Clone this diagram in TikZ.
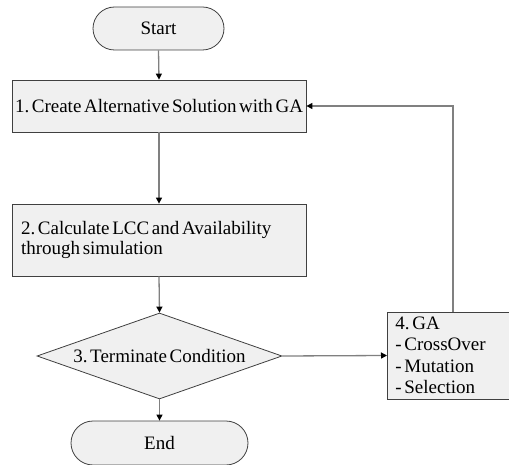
\documentclass[tikz,border=0pt]{standalone}
\usepackage{fontspec}
\setmainfont{Liberation Serif}[WordSpace=0.55]
\usetikzlibrary{shapes.geometric,shapes.misc,arrows.meta}
\definecolor{boxfill}{HTML}{F0F0F0}
\definecolor{boxline}{HTML}{404040}
\definecolor{flowline}{HTML}{808080}
\frenchspacing
\begin{document}
\begin{tikzpicture}[x=1pt,y=-1pt,
  font=\fontsize{19}{19.5}\selectfont,
  every node/.style={fill=boxfill,draw=boxline,line width=0.8pt,inner sep=0pt},
  terminal/.style={rounded rectangle,minimum height=43pt},
  process/.style={rectangle,minimum height=52pt},
  listbox/.style={rectangle,text width=#1,align=flush left,
    execute at begin node={\frenchspacing\spaceskip=0.14em\relax}},
  decision/.style={diamond,aspect=2.85,minimum width=245pt,minimum height=86pt},
  flow/.style={draw=flowline,line width=1.3pt,-{Triangle[length=6pt,width=6pt,color=black]}}
]
\useasboundingbox (0,0) rectangle (509,465);
\node[terminal,minimum width=131pt] (start) at (158.5,28.5) {Start};
\node[process,minimum width=294pt] (create) at (159,106) {1. Create Alternative Solution with GA};
\node[process,listbox=276pt,minimum width=294pt,minimum height=72pt] (calc) at (159,240)
  {2. Calculate LCC and Availability\\through simulation};
\node[decision] (cond) at (159.5,356) {3. Terminate Condition};
\node[terminal,minimum width=177pt,minimum height=44pt] (end) at (159.5,443) {End};
\node[listbox=126pt,minimum width=140pt,minimum height=87pt,anchor=west,
  font=\fontsize{19}{21.5}\selectfont,inner xsep=8pt] (ga) at (387,355.5)
  {4. GA\\- CrossOver\\- Mutation\\- Selection};
\coordinate (loop) at (453,0);
\draw[flow] (start.south) -- (create.north);
\draw[flow] (create.south) -- (calc.north);
\draw[flow] (calc.south) -- (cond.north);
\draw[flow] (cond.south) -- (end.north);
\draw[flow] (cond.east) -- (ga.west);
\draw[flow] (ga.north -| loop) |- (create.east);
\end{tikzpicture}
\end{document}
